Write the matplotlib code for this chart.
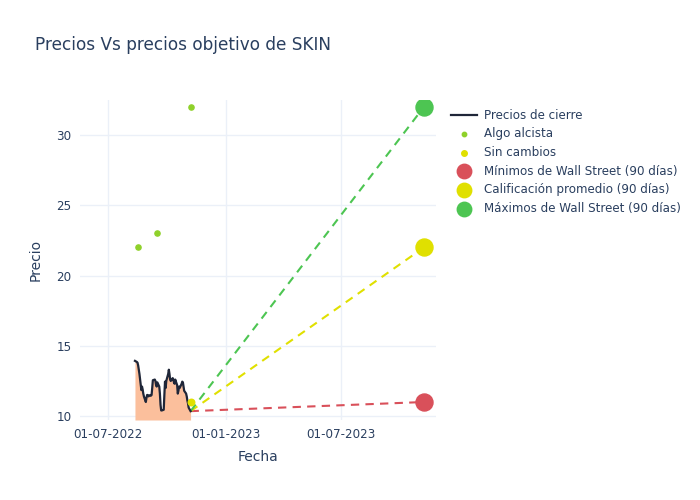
import numpy as np
import pandas as pd
import matplotlib.pyplot as plt
import matplotlib.dates as mdates

# closing prices (business days from 12-08-2022)
start_date = "2022-08-12"
close = [13.93, 13.85, 13.8, 13.6, 13.3, 13.0, 11.85, 12.1, 11.9, 11.6,
         11.4, 11.0, 11.3, 11.5, 11.5, 11.4, 11.5, 11.45, 11.5, 12.0,
         12.55, 12.6, 12.5, 12.2, 12.1, 12.4, 12.1, 11.6, 10.8, 10.4,
         10.4, 10.45, 11.5, 12.45, 12.0, 12.5, 13.0, 13.3, 13.0, 12.6,
         12.5, 12.7, 12.6, 12.4, 12.3, 12.6, 12.2, 11.6, 11.8, 12.1,
         12.0, 12.3, 12.45, 12.4, 12.1, 11.8, 11.6, 11.4, 11.1, 10.9,
         10.6, 10.35]

alcista_dates = ["2022-08-16", "2022-09-15", "2022-11-08"]
alcista_vals = [22, 23, 32]
sin_cambios_dates = ["2022-11-08"]
sin_cambios_vals = [11]

target_date = "2023-11-07"
wall_min = 11
wall_avg = 22
wall_max = 32

dates = pd.bdate_range(start_date, periods=len(close))
target = pd.Timestamp(target_date)
ymin, ymax = 9.72, 32.5

TXT = "#2a3f5f"
plt.rcParams["font.family"] = ["DejaVu Sans"]

fig = plt.figure(figsize=(7, 5), dpi=100)
ax = fig.add_axes([80 / 700, 80 / 500, 356 / 700, 320 / 500])

ax.fill_between(dates, close, ymin, color="#fbbf9c", lw=0, zorder=1)
ax.plot(dates, close, color="#1f2638", lw=1.6, label="Precios de cierre", zorder=3)

ax.scatter(pd.to_datetime(alcista_dates), alcista_vals, s=14, color="#8fd12a",
           label="Algo alcista", zorder=4)
ax.scatter(pd.to_datetime(sin_cambios_dates), sin_cambios_vals, s=22, color="#e0e000",
           label="Sin cambios", zorder=4)

last_d, last_v = dates[-1], close[-1]
for val, col, lab in [(wall_min, "#d9505a", "Mínimos de Wall Street (90 días)"),
                      (wall_avg, "#e0e000", "Calificación promedio (90 días)"),
                      (wall_max, "#4dc552", "Máximos de Wall Street (90 días)")]:
    ax.plot([last_d, target], [last_v, val], color=col, lw=1.5, ls=(0, (4, 3)), zorder=2)
    ax.scatter([target], [val], s=150, color=col, label=lab, zorder=5)

ax.set_xlim(pd.Timestamp("2022-05-18"), pd.Timestamp("2023-11-26"))
ax.set_ylim(ymin, ymax)
ax.xaxis.set_major_locator(mdates.MonthLocator(bymonth=[1, 7]))
ax.xaxis.set_major_formatter(mdates.DateFormatter("%d-%m-%Y"))
ax.set_yticks([10, 15, 20, 25, 30])

ax.grid(color="#ebf0f8", lw=1)
ax.set_axisbelow(True)
for s in ax.spines.values():
    s.set_visible(False)
ax.tick_params(length=0, colors=TXT, labelsize=8.6, pad=6)

ax.set_xlabel("Fecha", color=TXT, fontsize=10, labelpad=6)
ax.set_ylabel("Precio", color=TXT, fontsize=10, labelpad=10)
fig.text(35 / 700, 1 - 45 / 500, "Precios Vs precios objetivo de SKIN",
         color=TXT, fontsize=12.2, va="center")

leg = fig.legend(loc="upper left", bbox_to_anchor=(446 / 700, 1 - 104 / 500),
                 frameon=False, fontsize=8.6, labelspacing=0.47, markerscale=0.85,
                 handlelength=2.2, handletextpad=0.6, borderaxespad=0)
for t in leg.get_texts():
    t.set_color(TXT)

fig.savefig("out.png", dpi=100)
